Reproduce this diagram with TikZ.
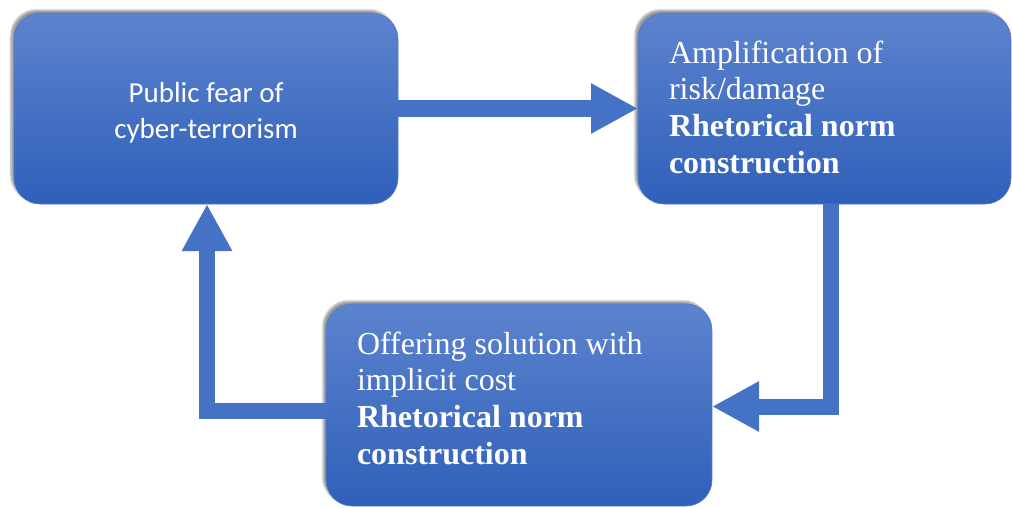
\documentclass[tikz,border=0pt]{standalone}
\usepackage{fontspec}
\setmainfont{Liberation Serif}
\newfontfamily\calib{Carlito}
\usetikzlibrary{arrows.meta,shadows.blur}
\definecolor{boxtop}{RGB}{92,131,206}
\definecolor{boxbot}{RGB}{47,96,185}
\definecolor{boxedge}{RGB}{80,122,200}
\definecolor{arrowblue}{RGB}{68,114,196}
\tikzset{
  box/.style={draw=boxedge, line width=0.6pt, rounded corners=26pt,
    top color=boxtop, bottom color=boxbot, inner sep=0pt, outer sep=0pt,
    blur shadow={shadow xshift=-3pt, shadow yshift=3pt, shadow blur steps=6, shadow opacity=40}},
  boxtext/.style={text=white, inner sep=0pt, outer sep=0pt},
  serif/.style={font=\fontsize{32}{36.7}\selectfont, align=left},
  arr/.style={draw=arrowblue, line join=miter, line cap=butt,
    -{Triangle[width=47pt,length=47pt,fill=arrowblue]}}
}
\begin{document}
\begin{tikzpicture}[x=1pt,y=-1pt]
\useasboundingbox (0,0) rectangle (1012,507);
\node[box, minimum width=384pt, minimum height=191pt] (b1) at (206,108.5) {};
\node[box, minimum width=373pt, minimum height=191pt] (b2) at (824.5,108.5) {};
\node[box, minimum width=386pt, minimum height=202pt] (b3) at (519,405) {};
\node[boxtext, align=center, font=\calib\fontsize{29}{36}\selectfont] (t1) at (206,112.5) {Public fear of\\cyber-terrorism};
\node[boxtext, serif, anchor=north west] (t2) at (669,40.5) {Amplification of\\risk/damage\\\textbf{Rhetorical norm}\\\textbf{construction}};
\node[boxtext, serif, anchor=north west] (t3) at (357,331.5) {Offering solution with\\implicit cost\\\textbf{Rhetorical norm}\\\textbf{construction}};
\draw[arr, line width=17pt] (b1.east) -- (b2.west);
\draw[arr, line width=16pt] ([xshift=6.5pt]b2.south) |- ([yshift=-1.5pt]b3.east);
\draw[arr, line width=16pt] ([yshift=-6pt]b3.west) -| ([xshift=1pt]b1.south);
\end{tikzpicture}
\end{document}
